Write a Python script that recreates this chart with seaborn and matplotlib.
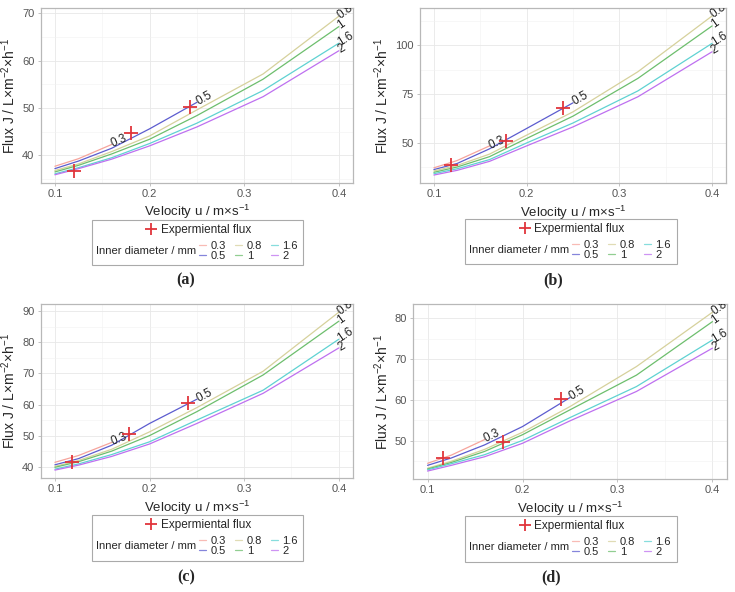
import math
import pandas as pd
import matplotlib
matplotlib.use('Agg')
import matplotlib.pyplot as plt
import seaborn as sns
from matplotlib.lines import Line2D
from matplotlib.patches import Rectangle
from matplotlib.ticker import MultipleLocator

### DATA ###

velocity = [0.1, 0.125, 0.16, 0.2, 0.25, 0.32, 0.4]
diameters = ['0.3', '0.5', '0.8', '1', '1.6', '2']
colors = ['#F6A49C', '#5C5CCF', '#D6D19C', '#6DBE6D', '#5FD2D2', '#BE70F0']

flux_a = {
    '0.3': [37.7, 39.3, 42.3],
    '0.5': [37.2, 38.8, 41.5, 45.6, 51.2],
    '0.8': [36.8, 38.2, 40.8, 44.1, 49.6, 57.2, 69.4],
    '1':   [36.5, 37.9, 40.3, 43.4, 48.4, 56.1, 67.2],
    '1.6': [36.1, 37.4, 39.5, 42.5, 46.8, 53.7, 63.7],
    '2':   [35.9, 37.2, 39.2, 42.0, 46.0, 52.4, 62.1],
}
flux_b = {
    '0.3': [37.3, 41.0, 48.5],
    '0.5': [36.4, 39.5, 47.0, 57.4, 70.5],
    '0.8': [35.7, 38.5, 44.3, 54.0, 65.9, 86.4, 114.9],
    '1':   [35.0, 37.7, 43.0, 52.3, 63.7, 83.0, 109.8],
    '1.6': [34.3, 36.8, 41.5, 50.0, 60.2, 76.6, 100.9],
    '2':   [33.6, 36.0, 40.6, 48.5, 58.2, 73.6, 96.6],
}
flux_c = {
    '0.3': [41.4, 43.6, 47.8],
    '0.5': [40.6, 42.6, 46.9, 53.9, 61.7],
    '0.8': [40.1, 42.0, 45.6, 51.2, 59.0, 70.7, 89.7],
    '1':   [39.8, 41.6, 45.0, 50.0, 57.7, 69.5, 86.8],
    '1.6': [39.2, 40.9, 43.9, 48.0, 55.0, 64.6, 81.0],
    '2':   [38.9, 40.5, 43.3, 47.3, 53.9, 63.6, 78.2],
}
flux_d = {
    '0.3': [44.5, 46.5, 50.3],
    '0.5': [44.0, 45.8, 49.0, 53.5, 60.6],
    '0.8': [43.3, 45.0, 47.9, 52.1, 58.4, 68.2, 81.5],
    '1':   [43.1, 44.7, 47.4, 51.5, 57.6, 66.1, 79.2],
    '1.6': [42.9, 44.4, 46.6, 50.1, 55.7, 63.3, 74.7],
    '2':   [42.6, 44.0, 46.1, 49.4, 54.9, 62.1, 72.7],
}

exp_velocity_a = [0.12, 0.18, 0.243]
exp_flux_a = [36.8, 44.8, 50.3]
exp_velocity_b = [0.118, 0.178, 0.239]
exp_flux_b = [38.6, 51.0, 68.1]
exp_velocity_c = [0.118, 0.178, 0.241]
exp_flux_c = [41.6, 50.4, 60.4]
exp_velocity_d = [0.116, 0.179, 0.240]
exp_flux_d = [45.8, 49.6, 60.2]

### STYLE ###

sns.set_theme(style='white')
plt.rcParams['font.family'] = ['Liberation Sans', 'DejaVu Sans']
plt.rcParams['mathtext.fontset'] = 'custom'
plt.rcParams['mathtext.rm'] = 'Liberation Sans'
plt.rcParams['mathtext.it'] = 'Liberation Sans:italic'

W, H = 735, 592
fig = plt.figure(figsize=(7.35, 5.92), dpi=100)
exp_color = '#E0353B'
palette = dict(zip(diameters, colors))


def fx(px):
    return px / W


def fy(py):
    return 1 - py / H


def draw_panel(flux, exp_v, exp_j, step, axbox, legbox, cap_xy, caption):
    l, t, r, b = axbox
    ax = fig.add_axes([fx(l), fy(b), (r - l) / W, (b - t) / H])

    rows = []
    for d in diameters:
        for v, j in zip(velocity, flux[d]):
            rows.append((d, v, j))
    df = pd.DataFrame(rows, columns=['diameter', 'velocity', 'flux'])

    sns.lineplot(data=df, x='velocity', y='flux', hue='diameter', hue_order=diameters,
                 palette=palette, estimator=None, sort=False, lw=0.9, legend=False, ax=ax)
    sns.scatterplot(x=exp_v, y=exp_j, marker='+', s=110, color=exp_color,
                    linewidth=1.3, ax=ax, zorder=5)

    ax.margins(0.05)
    ax.autoscale_view()
    ax.set_xlim(ax.get_xlim())
    ax.set_ylim(ax.get_ylim())

    ax.xaxis.set_major_locator(MultipleLocator(0.1))
    ax.xaxis.set_minor_locator(MultipleLocator(0.05))
    ax.yaxis.set_major_locator(MultipleLocator(step))
    ax.yaxis.set_minor_locator(MultipleLocator(step / 2))
    ax.grid(which='major', color='#E8E8E8', lw=0.6)
    ax.grid(which='minor', color='#F2F2F2', lw=0.4)
    ax.set_axisbelow(True)
    for s in ax.spines.values():
        s.set_color('#B8B8B8')
        s.set_linewidth(0.9)
    ax.tick_params(which='major', length=2.5, width=0.6, color='#B8B8B8',
                   labelsize=8, labelcolor='#555555', pad=2, left=True, bottom=True)
    ax.tick_params(which='minor', length=0)

    ax.set_xlabel('Velocity u / m×s$^{-1}$', fontsize=9.5, labelpad=3)
    ax.set_ylabel('Flux J / L×m$^{-2}$×h$^{-1}$', fontsize=10, labelpad=3)

    # labels at the line ends, following the last segment
    for d in diameters:
        sub = df[df['diameter'] == d]
        p0 = ax.transData.transform((sub['velocity'].iloc[-2], sub['flux'].iloc[-2]))
        p1 = ax.transData.transform((sub['velocity'].iloc[-1], sub['flux'].iloc[-1]))
        ang = math.degrees(math.atan2(p1[1] - p0[1], p1[0] - p0[0]))
        ax.text(sub['velocity'].iloc[-1], sub['flux'].iloc[-1], d, rotation=ang,
                rotation_mode='anchor', ha='left', va='center', fontsize=8.5,
                color='#222222', clip_on=True)

    # legend box below the panel
    x0, y0, x1, y1 = legbox
    fig.add_artist(Rectangle((fx(x0), fy(y1)), (x1 - x0) / W, (y1 - y0) / H,
                             transform=fig.transFigure, fill=False,
                             edgecolor='#AAAAAA', lw=0.8))
    fig.legend(handles=[Line2D([], [], marker='+', color=exp_color, ls='none',
                               markersize=9, mew=1.3)],
               labels=['Expermiental flux'], loc='center',
               bbox_to_anchor=(fx((x0 + x1) / 2), fy(y0 + 10)), frameon=False,
               fontsize=8.5, handletextpad=0.2, borderpad=0, handlelength=1.2)
    fig.text(fx(x0 + 4), fy(y0 + 31), 'Inner diameter / mm', fontsize=8,
             ha='left', va='center')
    handles = [Line2D([], [], color=c, lw=0.9, alpha=0.75) for c in colors]
    fig.legend(handles=handles, labels=diameters, ncol=3, loc='center left',
               bbox_to_anchor=(fx(x0 + 107), fy(y0 + 31)), frameon=False,
               fontsize=8, handlelength=0.6, handletextpad=0.45,
               columnspacing=0.8, labelspacing=-0.05, borderpad=0, borderaxespad=0)

    fig.text(fx(cap_xy[0]), fy(cap_xy[1]), caption, family='Liberation Serif',
             fontsize=11.5, fontweight='bold', ha='center', va='center')


draw_panel(flux_a, exp_velocity_a, exp_flux_a, 10, (40.7, 8.3, 353, 182.7),
           (92, 220, 303, 265), (186, 280), '(a)')
draw_panel(flux_b, exp_velocity_b, exp_flux_b, 25, (420, 8, 726, 183),
           (465, 219, 677, 264), (553, 280), '(b)')
draw_panel(flux_c, exp_velocity_c, exp_flux_c, 10, (40.7, 304.3, 353, 478),
           (92, 515, 303, 561), (186, 577), '(c)')
draw_panel(flux_d, exp_velocity_d, exp_flux_d, 10, (413.3, 304.3, 726.7, 479),
           (465, 516, 677, 562), (551, 577), '(d)')

fig.savefig('out.png', dpi=100)
